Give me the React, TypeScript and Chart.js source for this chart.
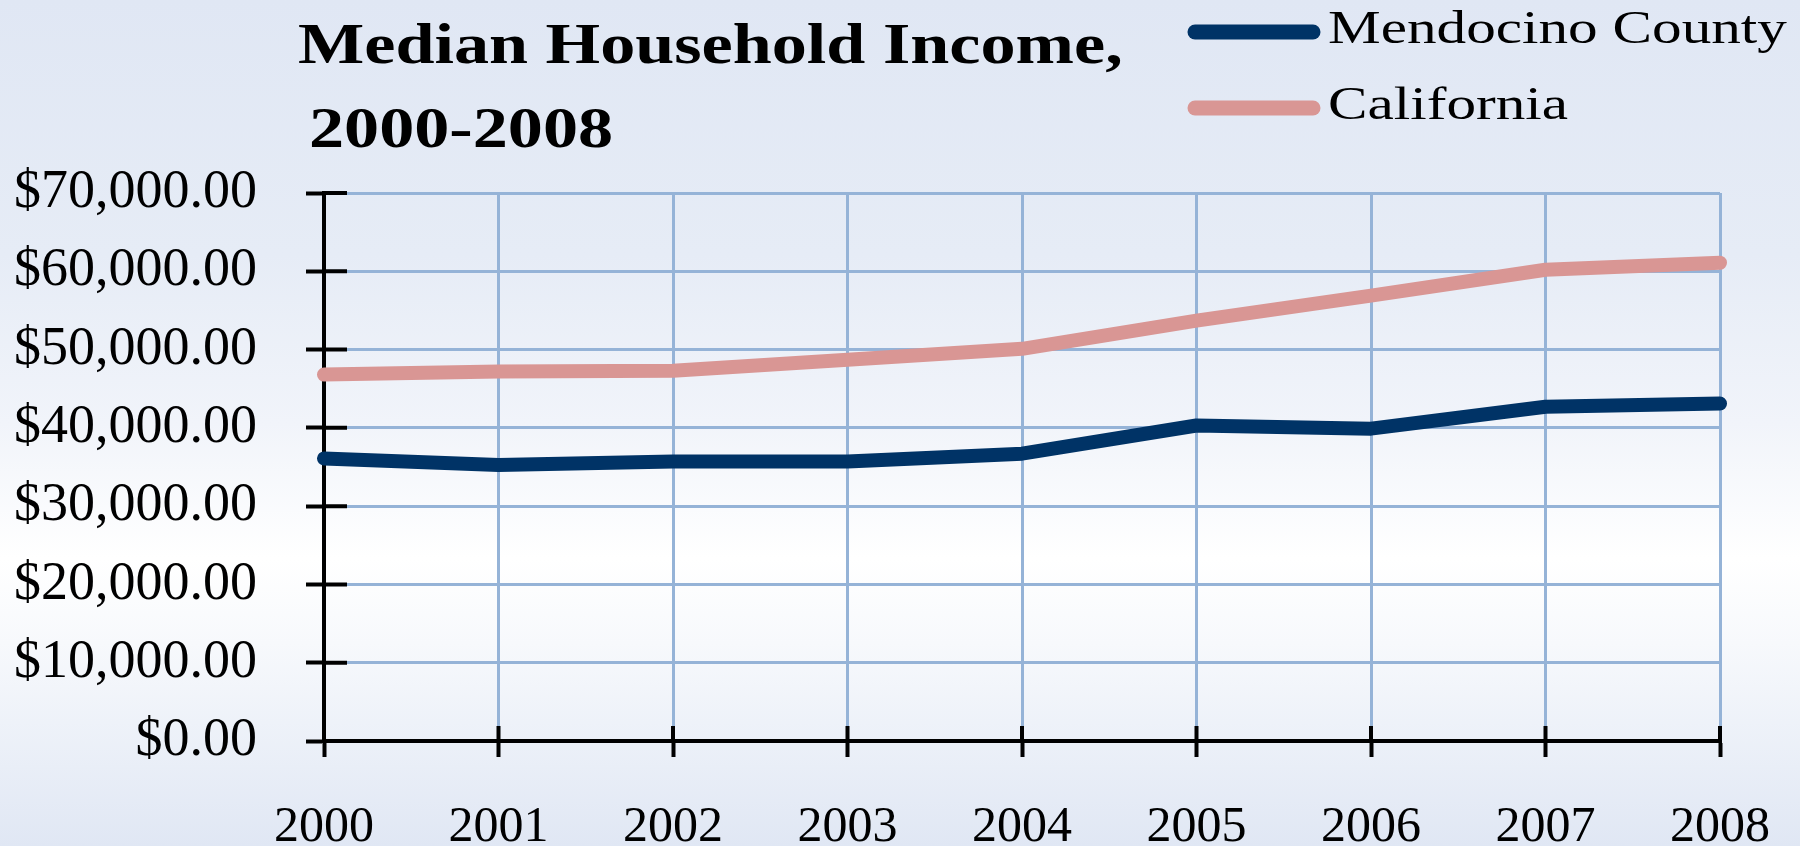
import React, { useEffect, useRef } from "react";
import { Chart, registerables } from "chart.js";

Chart.register(...registerables);

const titleLines = ["Median Household Income,", "2000-2008"];
const years = ["2000", "2001", "2002", "2003", "2004", "2005", "2006", "2007", "2008"];
const seriesNames = ["Mendocino County", "California"];
const mendocino = [36100, 35250, 35700, 35700, 36700, 40300, 39900, 42700, 43100];
const california = [46800, 47200, 47300, 48700, 50100, 53700, 56900, 60200, 61100];
const yTickValues = [0, 10000, 20000, 30000, 40000, 50000, 60000, 70000];

const NAVY = "#003366";
const PINK = "#D99694";
const GRID = "#95B3D7";
const SERIF = "'Liberation Serif', 'Times New Roman', serif";

const fmtMoney = (v: number) =>
  "$" + v.toLocaleString("en-US", { minimumFractionDigits: 2, maximumFractionDigits: 2 });

const headerPlugin = {
  id: "header",
  afterDraw(chart: any) {
    const ctx = chart.ctx;
    ctx.save();
    ctx.fillStyle = "#000";
    ctx.textBaseline = "alphabetic";
    ctx.textAlign = "left";
    // title
    ctx.font = `bold 58px ${SERIF}`;
    const titlePos = [
      { x: 298, y: 63 },
      { x: 309, y: 147 },
    ];
    titleLines.forEach((t, i) => {
      ctx.save();
      ctx.translate(titlePos[i].x, titlePos[i].y);
      ctx.scale(1.21, 1);
      ctx.fillText(t, 0, 0);
      ctx.restore();
    });
    // legend
    const rows = [32, 108];
    chart.data.datasets.forEach((ds: any, i: number) => {
      const y = rows[i];
      ctx.save();
      ctx.strokeStyle = ds.borderColor;
      ctx.lineWidth = 15;
      ctx.lineCap = "round";
      ctx.beginPath();
      ctx.moveTo(1195, y);
      ctx.lineTo(1313, y);
      ctx.stroke();
      ctx.restore();
      ctx.save();
      ctx.font = `47px ${SERIF}`;
      ctx.fillStyle = "#000";
      ctx.translate(1328, y + 11);
      ctx.scale(1.26, 1);
      ctx.fillText(ds.label, 0, 0);
      ctx.restore();
    });
    ctx.restore();
  },
};

const crossTickPlugin = {
  id: "crossTicks",
  beforeDatasetsDraw(chart: any) {
    const ctx = chart.ctx;
    const xs = chart.scales.x;
    const ys = chart.scales.y;
    const area = chart.chartArea;
    ctx.save();
    ctx.strokeStyle = "#000";
    ctx.lineWidth = 4;
    ctx.beginPath();
    ys.ticks.forEach((_t: any, i: number) => {
      const py = ys.getPixelForTick(i);
      ctx.moveTo(area.left, py);
      ctx.lineTo(area.left + 23, py);
    });
    xs.ticks.forEach((_t: any, i: number) => {
      const px = xs.getPixelForTick(i);
      ctx.moveTo(px, area.bottom);
      ctx.lineTo(px, area.bottom - 15);
    });
    ctx.stroke();
    ctx.restore();
  },
};

export default function App() {
  const ref = useRef<HTMLCanvasElement | null>(null);

  useEffect(() => {
    if (!ref.current) return;
    const chart = new Chart(ref.current, {
      type: "line",
      data: {
        labels: years,
        datasets: [
          {
            label: seriesNames[0],
            data: mendocino,
            borderColor: NAVY,
            backgroundColor: NAVY,
            borderWidth: 14,
            pointRadius: 0,
            tension: 0,
            borderCapStyle: "round",
            borderJoinStyle: "round",
          },
          {
            label: seriesNames[1],
            data: california,
            borderColor: PINK,
            backgroundColor: PINK,
            borderWidth: 14,
            pointRadius: 0,
            tension: 0,
            borderCapStyle: "round",
            borderJoinStyle: "round",
          },
        ],
      },
      options: {
        animation: false,
        responsive: true,
        maintainAspectRatio: false,
        layout: { padding: { top: 193, right: 80, left: 0, bottom: 0 } },
        plugins: {
          legend: { display: false },
          title: { display: false },
          tooltip: { enabled: false },
        },
        scales: {
          x: {
            type: "category",
            offset: false,
            grid: {
              color: GRID,
              lineWidth: 3,
              tickColor: "#000",
              tickWidth: 4,
              tickLength: 16,
            },
            border: { color: "#000", width: 4 },
            ticks: {
              color: "#000",
              font: { family: SERIF, size: 50, lineHeight: 1 },
              padding: 46,
              maxRotation: 0,
              autoSkip: false,
            },
            afterFit: (s: any) => {
              s.height = 105;
              s.paddingLeft = 0;
              s.paddingRight = 0;
            },
          },
          y: {
            min: 0,
            max: 70000,
            afterBuildTicks: (s: any) => {
              s.ticks = yTickValues.map((v) => ({ value: v }));
            },
            grid: {
              color: GRID,
              lineWidth: 3,
              tickColor: "#000",
              tickWidth: 4,
              tickLength: 18,
            },
            border: { color: "#000", width: 4 },
            ticks: {
              color: "#000",
              font: { family: SERIF, size: 54, lineHeight: 1 },
              padding: 49,
              callback: (v: any) => fmtMoney(Number(v)),
            },
            afterFit: (s: any) => {
              s.width = 324;
            },
          },
        },
      },
      plugins: [crossTickPlugin, headerPlugin],
    });
    return () => chart.destroy();
  }, []);

  return (
    <div
      style={{
        position: "fixed",
        left: 0,
        top: 0,
        width: "1800px",
        height: "846px",
        background:
          "linear-gradient(to bottom, #E0E7F4 0%, #E6ECF6 30%, #F1F4FA 50%, #FFFFFF 66%, #F7F9FC 76%, #E0E7F4 100%)",
      }}
    >
      <canvas ref={ref} />
    </div>
  );
}
